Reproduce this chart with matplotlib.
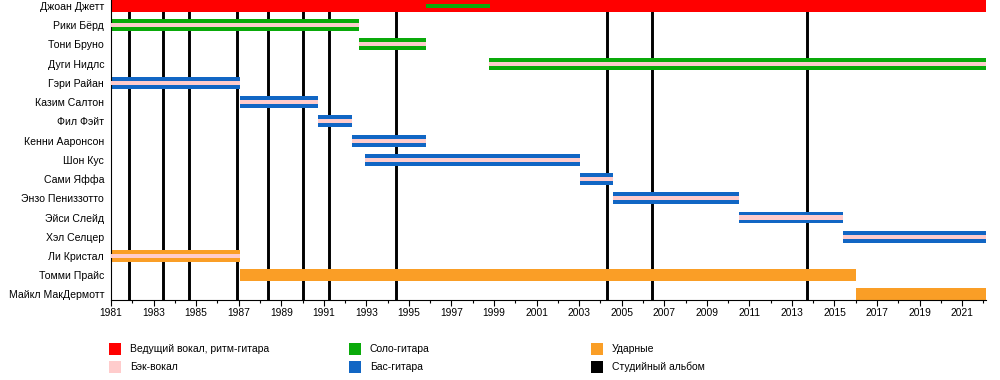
import matplotlib
matplotlib.use("Agg")
import matplotlib.pyplot as plt
from matplotlib.patches import Rectangle

plt.rcParams['font.family'] = ['Liberation Sans', 'DejaVu Sans']

# members, top to bottom
members = ["Джоан Джетт", "Рики Бёрд", "Тони Бруно", "Дуги Нидлс", "Гэри Райан",
           "Казим Салтон", "Фил Фэйт", "Кенни Ааронсон", "Шон Кус", "Сами Яффа",
           "Энзо Пениззотто", "Эйси Слейд", "Хэл Селцер", "Ли Кристал",
           "Томми Прайс", "Майкл МакДермотт"]
starts = [1981.0, 1981.0, 1992.65, 1998.78, 1981.0, 1987.05, 1990.72, 1992.33,
          1992.95, 2003.02, 2004.57, 2010.5, 2015.38, 1981.0, 1987.05, 2016.02]
ends = [2022.1, 1992.67, 1995.82, 2022.1, 1987.07, 1990.73, 1992.33, 1995.82,
        2003.02, 2004.57, 2010.5, 2015.38, 2022.1, 1987.07, 2016.02, 2022.1]
roles = ["vocals", "lead", "lead", "lead", "bass", "bass", "bass", "bass",
         "bass", "bass", "bass", "bass", "bass", "drums", "drums", "drums"]
backing = [False, True, True, True, True, True, True, True,
           True, True, True, True, True, True, False, False]

# Joan Jett also played lead guitar
jett_lead = (1995.8, 1998.79)

# studio albums
albums = [1981.83, 1983.44, 1984.68, 1986.9, 1988.37, 1990.0, 1991.26,
          1994.39, 2004.3, 2006.42, 2013.73]

colors = {"vocals": "#FF0000", "backing": "#FFCCCC", "lead": "#0AAA0A",
          "bass": "#1166C4", "drums": "#FA9E26", "album": "#000000"}
legend_labels = {"vocals": "Ведущий вокал, ритм-гитара", "backing": "Бэк-вокал",
                 "lead": "Соло-гитара", "bass": "Бас-гитара",
                 "drums": "Ударные", "album": "Студийный альбом"}

fig = plt.figure(figsize=(10, 3.8), dpi=100)
ax = fig.add_axes([0.111, 1 - 300 / 380, 0.875, 300 / 380])

for a in albums:
    ax.axvline(a, color=colors["album"], lw=2.1, zorder=1)

ypos = list(range(len(members)))
for i, name in enumerate(members):
    ax.barh(i, ends[i] - starts[i], left=starts[i], height=0.62,
            color=colors[roles[i]], zorder=2)
    if backing[i]:
        h = 0.21 if roles[i] != "drums" else 0.16
        ax.barh(i, ends[i] - starts[i], left=starts[i], height=h,
                color=colors["backing"], zorder=3)

ax.barh(0, jett_lead[1] - jett_lead[0], left=jett_lead[0], height=0.18,
        color=colors["lead"], zorder=3)

ax.set_xlim(1981, 2022.12)
ax.set_ylim(15.29, -0.31)
ax.set_yticks(ypos)
ax.set_yticklabels(members, fontsize=7.6)
ax.tick_params(axis="y", length=0, pad=5)
ax.set_xticks(range(1981, 2022, 2))
ax.set_xticks(range(1981, 2023), minor=True)
ax.tick_params(axis="x", which="major", length=4, width=0.8, labelsize=7.4, pad=2)
ax.tick_params(axis="x", which="minor", length=2.5, width=0.8)
for s in ["top", "right"]:
    ax.spines[s].set_visible(False)
ax.spines["left"].set_linewidth(0.8)
ax.spines["bottom"].set_linewidth(0.8)

# legend, three columns of two
order = [["vocals", "backing"], ["lead", "bass"], ["drums", "album"]]
col_x = [109, 349, 591]
row_y = [349, 367]
for c, keys in enumerate(order):
    for r, key in enumerate(keys):
        x0 = col_x[c] / 1000
        y0 = 1 - (row_y[r] + 6) / 380
        fig.add_artist(Rectangle((x0, y0), 12 / 1000, 12 / 380,
                                 transform=fig.transFigure,
                                 color=colors[key], lw=0))
        fig.text(x0 + 21 / 1000, 1 - row_y[r] / 380, legend_labels[key],
                 fontsize=7.5, va="center", ha="left")

fig.savefig("out.png", dpi=100)
